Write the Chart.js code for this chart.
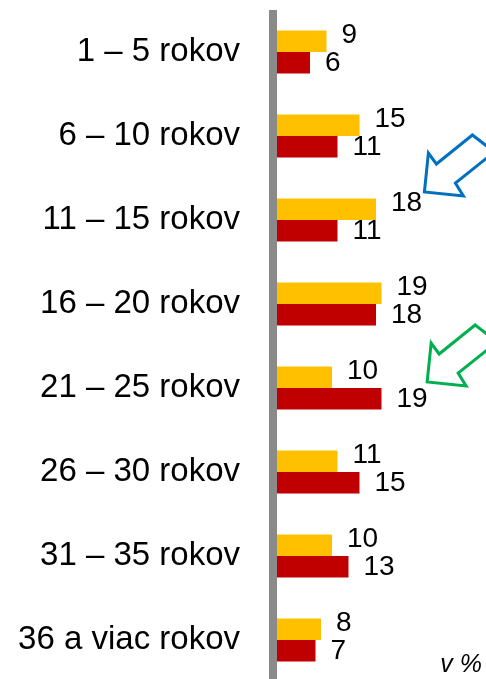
<!DOCTYPE html>
<html>
<head>
<meta charset="utf-8">
<script src="https://cdn.jsdelivr.net/npm/chart.js@4"></script>
<style>
	html, body { margin: 0; padding: 0; background: #fff; overflow: hidden; }
	#wrap { width: 486px; height: 692px; }
</style>
</head>
<body>
<div id="wrap"><canvas id="myChart" width="486" height="692"></canvas></div>
<script>
// data (v %)
const categories = [
	'1 – 5 rokov',
	'6 – 10 rokov',
	'11 – 15 rokov',
	'16 – 20 rokov',
	'21 – 25 rokov',
	'26 – 30 rokov',
	'31 – 35 rokov',
	'36 a viac rokov'
];
const yellowValues = [9, 15, 18, 19, 10, 11, 10, 8];
const redValues = [6, 11, 11, 18, 19, 15, 13, 7];
const unitLabel = 'v %';

const FONT = '"Liberation Sans", Arial, sans-serif';

// gray axis line left of the bars
const axisLine = {
	id: 'axisLine',
	beforeDatasetsDraw(chart) {
		const { ctx, chartArea } = chart;
		ctx.save();
		ctx.fillStyle = '#8a8a8a';
		ctx.fillRect(chartArea.left - 8, chartArea.top, 8, chart.height - chartArea.top);
		ctx.restore();
	}
};

// value labels next to bar ends
const valueLabels = {
	id: 'valueLabels',
	afterDatasetsDraw(chart) {
		const { ctx } = chart;
		ctx.save();
		ctx.font = '28px ' + FONT;
		ctx.fillStyle = '#000';
		ctx.textAlign = 'left';
		ctx.textBaseline = 'middle';
		chart.data.datasets.forEach((ds, di) => {
			const meta = chart.getDatasetMeta(di);
			meta.data.forEach((bar, i) => {
				const dy = di === 0 ? -6 : 1;
				ctx.fillText(String(ds.data[i]), bar.x + 15, bar.y + dy);
			});
		});
		ctx.restore();
	}
};

function drawArrow(ctx, tx, ty, color) {
	const pts = [
		[0, 0], [4, -39], [12, -28], [48, -57],
		[70, -40], [31, -9], [39, 4]
	];
	ctx.save();
	ctx.strokeStyle = color;
	ctx.lineWidth = 3;
	ctx.lineJoin = 'miter';
	ctx.beginPath();
	pts.forEach(([dx, dy], k) => {
		if (k === 0) ctx.moveTo(tx + dx, ty + dy);
		else ctx.lineTo(tx + dx, ty + dy);
	});
	ctx.closePath();
	ctx.stroke();
	ctx.restore();
}

// arrows and unit note
const extras = {
	id: 'extras',
	afterDraw(chart) {
		const { ctx } = chart;
		const xs = chart.scales.x;
		const ys = chart.scales.y;
		drawArrow(ctx, xs.getPixelForValue(26.8), ys.getPixelForValue(2) - 28, '#0070C0');
		drawArrow(ctx, xs.getPixelForValue(27.3), ys.getPixelForValue(4) - 6, '#00B050');
		ctx.save();
		ctx.font = 'italic 25px ' + FONT;
		ctx.fillStyle = '#000';
		ctx.textAlign = 'right';
		ctx.textBaseline = 'alphabetic';
		ctx.fillText(unitLabel, chart.width - 4, ys.getPixelForValue(7) + 32);
		ctx.restore();
	}
};

new Chart(document.getElementById('myChart'), {
	type: 'bar',
	data: {
		labels: categories,
		datasets: [
			{
				data: yellowValues,
				backgroundColor: '#FFC000',
				categoryPercentage: 0.51,
				barPercentage: 1
			},
			{
				data: redValues,
				backgroundColor: '#C00000',
				categoryPercentage: 0.51,
				barPercentage: 1
			}
		]
	},
	options: {
		indexAxis: 'y',
		responsive: false,
		animation: false,
		layout: { padding: { top: 10, bottom: 10, left: 0, right: 0 } },
		plugins: {
			legend: { display: false },
			tooltip: { enabled: false }
		},
		scales: {
			x: {
				display: false,
				min: 0,
				max: 38
			},
			y: {
				afterFit(scale) {
					scale.width = 277;
					scale.paddingTop = 0;
					scale.paddingBottom = 0;
				},
				grid: { display: false, drawTicks: false },
				border: { display: false },
				ticks: {
					padding: 37,
					color: '#000',
					font: { family: FONT, size: 33 }
				}
			}
		}
	},
	plugins: [axisLine, valueLabels, extras]
});
</script>
</body>
</html>
